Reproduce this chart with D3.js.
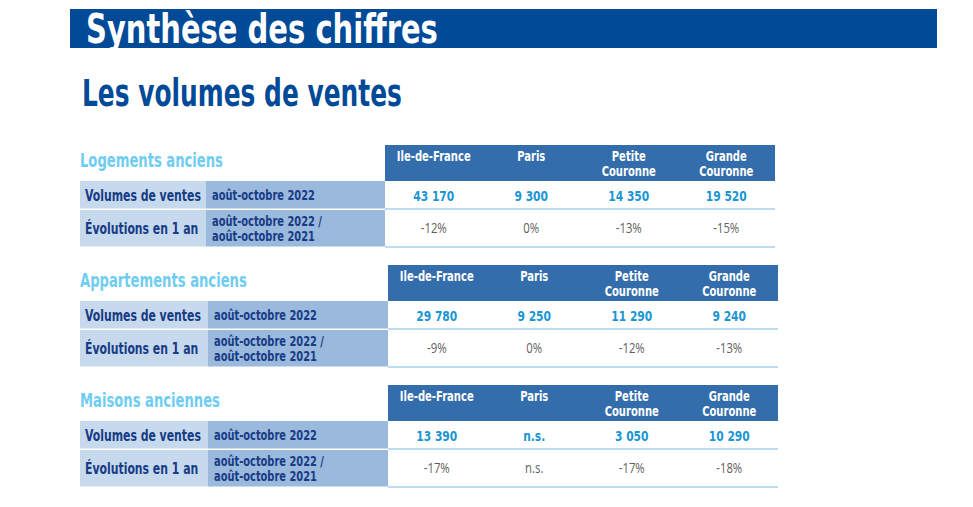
<!DOCTYPE html>
<html><head><meta charset="utf-8">
<script src="https://cdn.jsdelivr.net/npm/d3@7"></script>
<style>
html,body{margin:0;padding:0;background:#fff;}
svg{display:block;}
.cond{font-family:"DejaVu Sans Condensed","DejaVu Sans",sans-serif;font-weight:bold;}
.reg{font-family:"Open Sans","Noto Sans",sans-serif;}
</style></head>
<body>
<svg id="chart" width="973" height="507"></svg>
<script>
// ---- data ----
const pageTitle = "Synthèse des chiffres";
const subTitle = "Les volumes de ventes";
const sections = ["Logements anciens", "Appartements anciens", "Maisons anciennes"];
const regions = ["Ile-de-France", "Paris", "Petite Couronne", "Grande Couronne"];
const rowLabels = ["Volumes de ventes", "Évolutions en 1 an"];
const periodLabels = [["août-octobre 2022"], ["août-octobre 2022 /", "août-octobre 2021"]];
const volumes = [
  [43170, 9300, 14350, 19520],
  [29780, 9250, 11290, 9240],
  [13390, null, 3050, 10290]
];
const evolutions = [
  [-12, 0, -13, -15],
  [-9, 0, -12, -13],
  [-17, null, -17, -18]
];

// ---- drawing ----
const svg = d3.select("#chart");
const C = {
  banner: "#004a98", header: "#336dac", light: "#c6d9ed", mid: "#9ab9dc",
  navy: "#173b85", value: "#1b96d3", sect: "#70cdf2", line: "#a9d0ee", grey: "#5f5f5f"
};
const loc = d3.formatLocale({decimal: ",", thousands: "\u00a0", grouping: [3], currency: ["", " €"], minus: "-"});
const fmtVol = loc.format(",");
const fmtEvo = v => loc.format("d")(v) + "%";

// horizontal condensation factor per text style, from a sample string and its width in the reference
function condense(cls, size, sample, target) {
  const t = svg.append("text").attr("class", cls).attr("font-size", size).text(sample);
  const w = t.node().getComputedTextLength();
  t.remove();
  return target / w;
}
const S = {
  title:  {cls: "cond", size: 40, k: condense("cond", 40, "Synthèse des chiffres", 352)},
  sub:    {cls: "cond", size: 37, k: condense("cond", 37, "Les volumes de ventes", 320)},
  sect:   {cls: "cond", size: 19, k: condense("cond", 19, "Logements anciens", 143)},
  rowLab: {cls: "cond", size: 16, k: condense("cond", 16, "Volumes de ventes", 116)},
  period: {cls: "cond", size: 14, k: condense("cond", 14, "août-octobre 2022", 103)},
  head:   {cls: "cond", size: 14, k: condense("cond", 14, "Ile-de-France", 74)},
  value:  {cls: "cond", size: 14.5, k: condense("cond", 14.5, "43 170", 41)},
  evo:    {cls: "reg", size: 14, k: condense("reg", 14, "-12%", 26)}
};

function addText(parent, x, y, lines, st, fill, anchor, lh) {
  const g = parent.append("g").attr("transform", `translate(${x},${y}) scale(${st.k},1)`);
  const t = g.append("text").attr("class", st.cls).attr("font-size", st.size)
    .attr("fill", fill).attr("text-anchor", anchor || "start");
  lines.forEach((p, i) => t.append("tspan").attr("x", 0).attr("y", i * (lh || 0)).text(p));
  return t;
}

// banner
svg.append("rect").attr("x", 70).attr("y", 9).attr("width", 867).attr("height", 39).attr("fill", C.banner);
addText(svg, 86, 43, [pageTitle], S.title, "#fff");
addText(svg, 82, 106, [subTitle], S.sub, C.banner);

const y = d3.scaleBand().domain(sections).range([145, 505]);
const xOff = d3.scaleOrdinal().domain(sections).range([0, 3, 3]);
const x = d3.scaleBand().domain(regions).range([385, 775]);

const headerH = 36, row1H = 27.5, gap = 1.5, row2H = 36.5;

sections.forEach((s, si) => {
  const g = svg.append("g").attr("transform", `translate(${xOff(s)},${y(s)})`);
  addText(g, 80 - xOff(s), 22, [s], S.sect, C.sect);
  // header
  g.append("rect").attr("x", x.range()[0]).attr("y", 0).attr("width", x.range()[1] - x.range()[0])
    .attr("height", headerH).attr("fill", C.header);
  regions.forEach(r => {
    const parts = r === "Ile-de-France" ? [r] : r.split(" ");
    addText(g, x(r) + x.bandwidth() / 2, 16, parts, S.head, "#fff", "middle", 15.5);
  });
  // rows
  const rowsY = [headerH, headerH + row1H + gap];
  const rowsH = [row1H, row2H];
  const splitX = 206 - (si ? 1 : 0);
  [0, 1].forEach(ri => {
    const ry = rowsY[ri], rh = rowsH[ri], cy = ry + rh / 2;
    g.append("rect").attr("x", 80 - xOff(s)).attr("y", ry).attr("width", splitX - 80 + xOff(s))
      .attr("height", rh).attr("fill", C.light);
    g.append("rect").attr("x", splitX).attr("y", ry).attr("width", x.range()[0] - splitX)
      .attr("height", rh).attr("fill", C.mid);
    addText(g, 85 - xOff(s), cy + 6, [rowLabels[ri]], S.rowLab, C.navy);
    const pl = periodLabels[ri];
    addText(g, splitX + 6, cy + 5 - (pl.length - 1) * 7.5, pl, S.period, C.navy, "start", 15);
    // separator line
    g.append("line").attr("x1", x.range()[0]).attr("x2", x.range()[1])
      .attr("y1", ry + rh + 0.5).attr("y2", ry + rh + 0.5).attr("stroke", C.line).attr("stroke-width", 1.5);
  });
  // values
  regions.forEach((r, ci) => {
    const cx = x(r) + x.bandwidth() / 2;
    const v = volumes[si][ci];
    addText(g, cx, rowsY[0] + rowsH[0] / 2 + 6, [v == null ? "n.s." : fmtVol(v)], S.value, C.value, "middle");
    const e = evolutions[si][ci];
    addText(g, cx, rowsY[1] + rowsH[1] / 2 + 5, [e == null ? "n.s." : fmtEvo(e)], S.evo, C.grey, "middle");
  });
});
</script>
</body></html>
